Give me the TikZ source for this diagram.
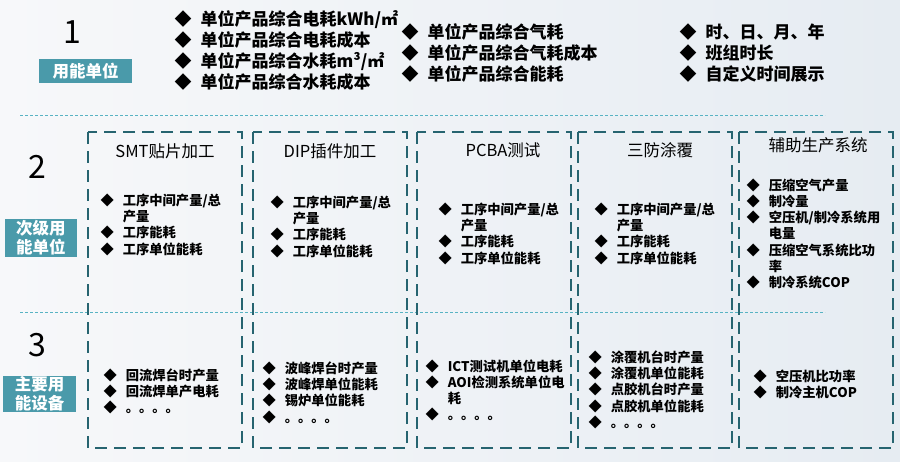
\documentclass[tikz,border=0pt]{standalone}
\usepackage{fontspec}
\setmainfont{Noto Sans CJK SC}
\usetikzlibrary{positioning, calc}

\definecolor{tagfill}{HTML}{4A9AAA}
\definecolor{boxline}{HTML}{266470}
\definecolor{septeal}{HTML}{58B3C3}
\definecolor{paperL}{HTML}{F7F8FA}
\definecolor{paperR}{HTML}{E6ECF2}

% bullet list: diamond column + text column
\newcommand{\dlist}[1]{\begin{tabular}[t]{@{}c@{\hspace{9pt}}l@{}}#1\end{tabular}}

\tikzset{
  numlabel/.style={font=\fontsize{32}{32}\selectfont, inner sep=0pt},
  tagbox/.style={fill=tagfill, text=white, font=\bfseries\fontsize{16.5}{19}\selectfont,
    inner sep=0pt, align=center},
  groupbox/.style={draw=boxline, line width=2.6pt, dash pattern=on 12pt off 7pt},
  sepline/.style={draw=septeal, line width=0.8pt, dash pattern=on 3pt off 2pt},
  boxtitle/.style={font=\fontsize{16.5}{18}\selectfont, inner sep=0pt},
  toplist/.style={font=\bfseries\fontsize{17}{20.5}\selectfont, inner sep=0pt, anchor=base west},
  boxlist/.style={font=\bfseries\fontsize{13.3}{16}\selectfont, inner sep=0pt, anchor=base west},
}

\begin{document}
\begin{tikzpicture}[x=1pt, y=-1pt]
        \useasboundingbox (0,0) rectangle (900,461);
        \shade[left color=paperL, right color=paperR] (0,0) rectangle (900,461);

        % Row 1: energy units
        \node[numlabel] (n1) at (72,32) {1};
        \node[tagbox, minimum width=93pt, minimum height=24pt] (tag1) at (85.5,71) {用能单位};

        \node[toplist] (top1) at (174.5,25.5) {\dlist{
          ◆ & 单位产品综合电耗kWh/㎡\\
          ◆ & 单位产品综合电耗成本\\
          ◆ & 单位产品综合水耗m³/㎡\\
          ◆ & 单位产品综合水耗成本}};
        \node[toplist] (top2) at (401.5,38.5) {\dlist{
          ◆ & 单位产品综合气耗\\
          ◆ & 单位产品综合气耗成本\\
          ◆ & 单位产品综合能耗}};
        \node[toplist] (top3) at (679.5,38.5) {\dlist{
          ◆ & 时、日、月、年\\
          ◆ & 班组时长\\
          ◆ & 自定义时间展示}};

        % Separators
        \draw[sepline] (20,115) -- (825,115);
        \draw[sepline] (20,312) -- (825,312);

        % Process boxes
        \foreach \xa/\xb in {88/242, 253/407, 417/571, 578/732, 739/893} {
          \draw[groupbox] (\xa,132) rectangle (\xb,448);
        }

        \node[boxtitle] (t1) at (165,151) {SMT贴片加工};
        \node[boxtitle] (t2) at (330,151) {DIP插件加工};
        \node[boxtitle] (t3) at (503,150) {PCBA测试};
        \node[boxtitle] (t4) at (660,150) {三防涂覆};
        \node[boxtitle] (t5) at (818,145) {辅助生产系统};

        % Row 2: secondary units
        \node[numlabel] (n2) at (37,167) {2};
        \node[tagbox, minimum width=72pt, minimum height=38pt] (tag2) at (41,238) {次级用\\能单位};

        \node[boxlist] (s1) at (100.3,205) {\dlist{
          ◆ & 工序中间产量/总\\ & 产量\\ ◆ & 工序能耗\\ ◆ & 工序单位能耗}};
        \node[boxlist] (s2) at (270.3,207) {\dlist{
          ◆ & 工序中间产量/总\\ & 产量\\ ◆ & 工序能耗\\ ◆ & 工序单位能耗}};
        \node[boxlist] (s3) at (438.3,214) {\dlist{
          ◆ & 工序中间产量/总\\ & 产量\\ ◆ & 工序能耗\\ ◆ & 工序单位能耗}};
        \node[boxlist] (s4) at (594.3,214) {\dlist{
          ◆ & 工序中间产量/总\\ & 产量\\ ◆ & 工序能耗\\ ◆ & 工序单位能耗}};
        \node[boxlist] (s5) at (746.3,190) {\dlist{
          ◆ & 压缩空气产量\\
          ◆ & 制冷量\\
          ◆ & 空压机/制冷系统用\\ & 电量\\
          ◆ & 压缩空气系统比功\\ & 率\\
          ◆ & 制冷系统COP}};

        % Row 3: main equipment
        \node[numlabel] (n3) at (37,345) {3};
        \node[tagbox, minimum width=73pt, minimum height=36pt] (tag3) at (39.5,394) {主要用\\能设备};

        \node[boxlist] (e1) at (103.3,380) {\dlist{
          ◆ & 回流焊台时产量\\ ◆ & 回流焊单产电耗\\ ◆ & 。。。。}};
        \node[boxlist] (e2) at (262.3,373) {\dlist{
          ◆ & 波峰焊台时产量\\ ◆ & 波峰焊单位能耗\\ ◆ & 锡炉单位能耗\\ ◆ & 。。。。}};
        \node[boxlist] (e3) at (425.3,371) {\dlist{
          ◆ & ICT测试机单位电耗\\ ◆ & AOI检测系统单位电\\ & 耗\\ ◆ & 。。。。}};
        \node[boxlist] (e4) at (588.3,362) {\dlist{
          ◆ & 涂覆机台时产量\\ ◆ & 涂覆机单位能耗\\ ◆ & 点胶机台时产量\\
          ◆ & 点胶机单位能耗\\ ◆ & 。。。。}};
        \node[boxlist] (e5) at (753.3,381) {\dlist{
          ◆ & 空压机比功率\\ ◆ & 制冷主机COP}};
      \end{tikzpicture}
\end{document}
